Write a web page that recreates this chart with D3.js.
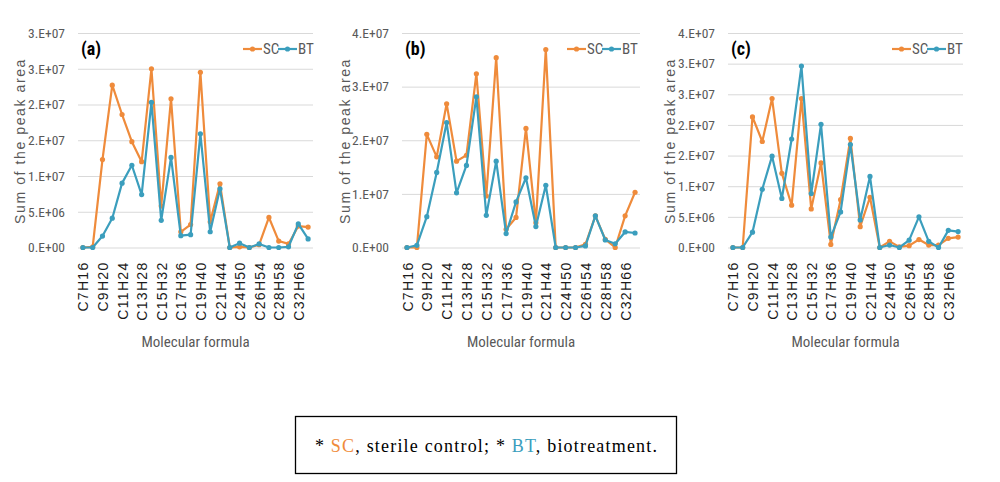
<!DOCTYPE html>
<html>
<head>
<meta charset="utf-8">
<script src="https://cdn.jsdelivr.net/npm/d3@7"></script>
<style>
  html, body { margin: 0; padding: 0; background: #fff; }
  svg { display: block; }
</style>
</head>
<body>
<svg id="chart" width="1000" height="482"></svg>
<script>
// ---------- DATA ----------
const categories = ["C7H16","C8H18","C9H20","C10H22","C11H24","C12H26","C13H28","C14H30","C15H32","C16H34",
  "C17H36","C18H38","C19H40","C20H42","C21H44","C22H46","C24H50","C25H52","C26H54","C27H56",
  "C28H58","C30H62","C32H66","C36H74"];
const shownLabels = ["C7H16","C9H20","C11H24","C13H28","C15H32","C17H36","C19H40","C21H44","C24H50","C26H54","C28H58","C32H66"];

const scA = [0, 0.1e6, 12.3e6, 22.7e6, 18.6e6, 14.8e6, 12.0e6, 25.0e6, 5.8e6, 20.8e6,
  2.2e6, 3.2e6, 24.5e6, 3.6e6, 8.9e6, 0, 0.1e6, 0, 0.4e6, 4.2e6,
  0.9e6, 0.5e6, 3.0e6, 2.85e6];
const btA = [0, 0, 1.6e6, 4.1e6, 9.0e6, 11.5e6, 7.4e6, 20.3e6, 3.8e6, 12.6e6,
  1.65e6, 1.8e6, 15.9e6, 2.2e6, 8.2e6, 0, 0.6e6, 0, 0.5e6, 0,
  0, 0.1e6, 3.3e6, 1.2e6];

const scB = [0, 0, 21.1e6, 16.9e6, 26.8e6, 16.1e6, 17.2e6, 32.4e6, 9.6e6, 35.4e6,
  3.4e6, 5.6e6, 22.2e6, 4.6e6, 36.9e6, 0, 0, 0, 0.6e6, 5.9e6,
  1.5e6, 0, 5.9e6, 10.3e6];
const btB = [0, 0.4e6, 5.75e6, 14.0e6, 23.3e6, 10.2e6, 15.3e6, 28.1e6, 6.0e6, 16.1e6,
  2.6e6, 8.5e6, 13.0e6, 3.9e6, 11.6e6, 0, 0, 0, 0.3e6, 5.9e6,
  1.4e6, 0.7e6, 2.9e6, 2.7e6];

const scC = [0, 0, 21.3e6, 17.3e6, 24.3e6, 12.1e6, 6.9e6, 24.3e6, 6.3e6, 13.8e6,
  0.5e6, 7.8e6, 17.8e6, 3.4e6, 8.2e6, 0, 1.0e6, 0.1e6, 0.3e6, 1.3e6,
  0.4e6, 0.4e6, 1.5e6, 1.7e6];
const btC = [0, 0, 2.5e6, 9.5e6, 14.9e6, 8.0e6, 17.7e6, 29.6e6, 8.8e6, 20.1e6,
  1.7e6, 5.8e6, 16.8e6, 4.5e6, 11.6e6, 0, 0.4e6, 0, 1.2e6, 5.0e6,
  1.0e6, 0, 2.8e6, 2.6e6];

const yTicksA = [0, 5e6, 10e6, 15e6, 20e6, 25e6, 30e6];
const yLabelsA = ["0.E+00","5.E+06","1.E+07","2.E+07","2.E+07","3.E+07","3.E+07"];
const yTicksB = [0, 10e6, 20e6, 30e6, 40e6];
const yLabelsB = ["0.E+00","1.E+07","2.E+07","3.E+07","4.E+07"];
const yTicksC = [0, 5e6, 10e6, 15e6, 20e6, 25e6, 30e6, 35e6];
const yLabelsC = ["0.E+00","5.E+06","1.E+07","2.E+07","2.E+07","3.E+07","3.E+07","4.E+07"];

const seriesNames = ["SC", "BT"];
const panelTags = ["(a)", "(b)", "(c)"];
const xTitle = "Molecular formula";
const yTitle = "Sum of the peak area";

// ---------- STYLE / LAYOUT ----------
const COLORS = { SC: "#EF8B3B", BT: "#3B9EBD" };
const GRID = "#d9d9d9";
const TXT = "#595959";
const NARROW = "'Liberation Sans Narrow', 'Arial Narrow', 'Roboto Condensed', sans-serif";

const panels = [
  { tag: panelTags[0], sc: scA, bt: btA, ticks: yTicksA, labels: yLabelsA, x0: 78,  x1: 313, yTitleX: 20,  legX: 243 },
  { tag: panelTags[1], sc: scB, bt: btB, ticks: yTicksB, labels: yLabelsB, x0: 402, x1: 640, yTitleX: 345, legX: 567 },
  { tag: panelTags[2], sc: scC, bt: btC, ticks: yTicksC, labels: yLabelsC, x0: 728, x1: 963, yTitleX: 670, legX: 892 }
];
const yTop = 33, yBot = 247.5;

const svg = d3.select("#chart");

panels.forEach(p => {
  const g = svg.append("g");
  const x = d3.scalePoint().domain(categories).range([p.x0, p.x1]).padding(0.5);
  const yMax = p.ticks[p.ticks.length - 1];
  const y = d3.scaleLinear().domain([0, yMax]).range([yBot, yTop]);

  // gridlines + y labels
  const yAxis = d3.axisLeft(y).tickValues(p.ticks)
    .tickSize(-(p.x1 - p.x0)).tickPadding(13)
    .tickFormat((d, i) => p.labels[i]);
  const ya = g.append("g").attr("transform", `translate(${p.x0},0)`).call(yAxis);
  ya.select(".domain").remove();
  ya.selectAll(".tick line").attr("stroke", GRID).attr("stroke-width", 1);
  ya.selectAll(".tick text").attr("fill", TXT).style("font-family", NARROW).style("font-size", "13.5px");

  // x labels
  const xAxis = d3.axisBottom(x).tickValues(shownLabels).tickSize(0).tickPadding(0);
  const xa = g.append("g").attr("transform", `translate(0,${yBot})`).call(xAxis);
  xa.select(".domain").remove();
  xa.selectAll(".tick text")
    .attr("transform", "translate(0,14) rotate(-90)")
    .attr("text-anchor", "end")
    .attr("x", 0).attr("y", 0).attr("dy", "0.36em")
    .attr("fill", "#1a1a1a")
    .style("font-family", "'Liberation Sans', Arial, sans-serif")
    .style("font-size", "14px")
    .style("letter-spacing", "1.3px");

  // axis titles
  g.append("text")
    .attr("x", (p.x0 + p.x1) / 2).attr("y", 347)
    .attr("text-anchor", "middle")
    .attr("fill", TXT)
    .style("font-family", NARROW).style("font-size", "15px")
    .text(xTitle);
  g.append("text")
    .attr("transform", `translate(${p.yTitleX},141) rotate(-90)`)
    .attr("text-anchor", "middle").attr("dy", "0.35em")
    .attr("fill", TXT)
    .style("font-family", "'Liberation Sans', Arial, sans-serif").style("font-size", "14px")
    .style("letter-spacing", "1.6px")
    .text(yTitle);

  // panel tag
  g.append("text")
    .attr("x", p.x0 + 3).attr("y", 55)
    .attr("fill", "#000")
    .style("font-family", NARROW).style("font-size", "18px").style("font-weight", "bold")
    .text(p.tag);

  // series
  const line = d3.line().x((d, i) => x(categories[i])).y(d => y(d));
  [["SC", p.sc], ["BT", p.bt]].forEach(([name, vals]) => {
    g.append("path").datum(vals)
      .attr("fill", "none").attr("stroke", COLORS[name])
      .attr("stroke-width", 2.2).attr("stroke-linejoin", "round")
      .attr("d", line);
    g.selectAll(null).data(vals).enter().append("circle")
      .attr("cx", (d, i) => x(categories[i])).attr("cy", d => y(d))
      .attr("r", 2.6).attr("fill", COLORS[name]);
  });

  // legend
  const leg = g.append("g").attr("transform", `translate(${p.legX},49)`);
  const offs = [0, 35];
  seriesNames.forEach((name, i) => {
    const lx = offs[i];
    leg.append("line").attr("x1", lx).attr("x2", lx + 19).attr("y1", 0).attr("y2", 0)
      .attr("stroke", COLORS[name]).attr("stroke-width", 2.2);
    leg.append("circle").attr("cx", lx + 9.5).attr("cy", 0).attr("r", 2.6).attr("fill", COLORS[name]);
    leg.append("text").attr("x", lx + 20).attr("y", 0).attr("dy", "0.35em")
      .attr("fill", TXT).style("font-family", NARROW).style("font-size", "15px")
      .text(name);
  });
});

// footnote box
svg.append("rect").attr("x", 295.5).attr("y", 416.5).attr("width", 381).attr("height", 57)
  .attr("fill", "none").attr("stroke", "#000").attr("stroke-width", 1.3);
const note = svg.append("text").attr("x", 315).attr("y", 452)
  .attr("textLength", 342).attr("lengthAdjust", "spacing")
  .style("font-family", "'Liberation Serif', 'DejaVu Serif', serif").style("font-size", "18px")
  .attr("fill", "#000");
note.append("tspan").text("* ");
note.append("tspan").attr("fill", COLORS.SC).text("SC");
note.append("tspan").text(",  sterile  control;  * ");
note.append("tspan").attr("fill", COLORS.BT).text("BT");
note.append("tspan").text(",  biotreatment.");
</script>
</body>
</html>
